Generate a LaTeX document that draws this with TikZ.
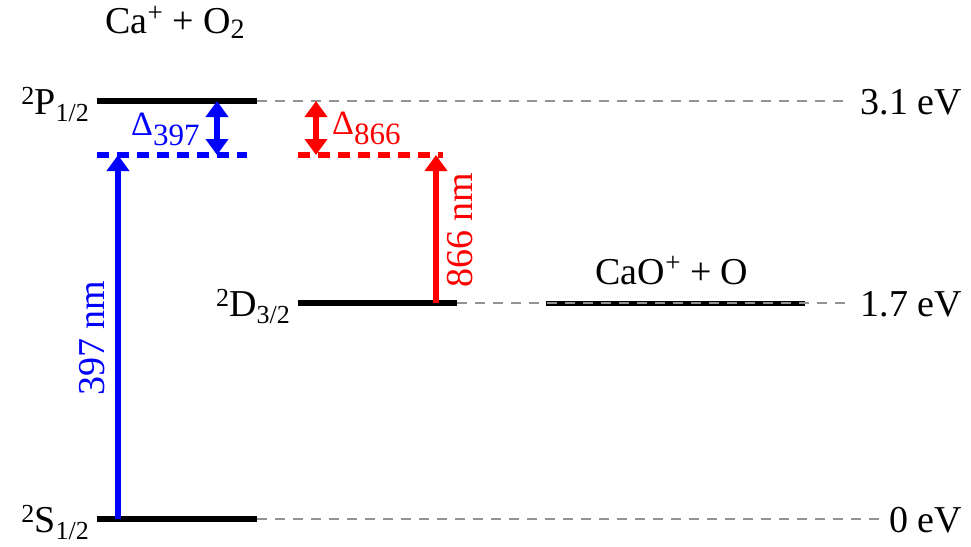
\documentclass[tikz,border=0pt]{standalone}
\usepackage{fontspec}
\setmainfont{Liberation Serif}
\usetikzlibrary{arrows.meta}
\newcommand\mysup[3]{\raisebox{#2pt}{\fontsize{#1}{#1}\selectfont #3}}
\newcommand\mysub[3]{\raisebox{-#2pt}{\fontsize{#1}{#1}\selectfont #3}}
\begin{document}
\begin{tikzpicture}[x=1pt,y=-1pt,
  font=\fontsize{38}{44}\selectfont,
  level/.style={line width=6pt},
  guide/.style={draw=gray!85, line width=2pt, dash pattern=on 10pt off 8pt},
  detuned/.style={line width=6pt, dash pattern=on 12pt off 8pt},
  tip/.tip={Triangle[width=22pt,length=16pt]},
  arr/.style={line width=6pt, -tip},
  darr/.style={line width=6pt, tip-tip},
  lab/.style={inner sep=0pt}]
\useasboundingbox (0,0) rectangle (971,546);
% level coordinates
\coordinate (P1) at (97,101);  \coordinate (P2) at (257,101); \coordinate (Pe) at (850,101);
\coordinate (D1) at (298,303); \coordinate (D2) at (457,303); \coordinate (De) at (850,303);
\coordinate (C1) at (546,303); \coordinate (C2) at (805,303);
\coordinate (S1) at (97,519);  \coordinate (S2) at (257,519); \coordinate (Se) at (880,519);
\coordinate (B1) at (97,155);  \coordinate (B2) at (247,155);
\coordinate (R1) at (298,155); \coordinate (R2) at (443,155);
\coordinate (ba) at (118,519); \coordinate (bb) at (118,155);
\coordinate (bc) at (217,101); \coordinate (bd) at (217,155);
\coordinate (rc) at (316,101); \coordinate (rd) at (316,155);
\coordinate (ra) at (436,303); \coordinate (rb) at (436,155);
% levels
\draw[level] (P1) -- (P2);
\draw[level] (D1) -- (D2);
\draw[level] (S1) -- (S2);
\draw[line width=5pt] (C1) -- (C2);
\draw[guide] (P2) -- (Pe);
\draw[guide] (D2) -- (De);
\draw[guide] (S2) -- (Se);
\draw[detuned, blue] (B1) -- (B2);
\draw[detuned, red] (R1) -- (R2);
% arrows
\draw[arr, blue] (ba) -- (bb);
\draw[darr, blue] (bc) -- (bd);
\draw[darr, red] (rc) -- (rd);
\draw[arr, red] (ra) -- (rb);
% labels
\node[lab, anchor=base] (title) at (175,33) {Ca\mysup{27}{12}{+} + O\mysub{28}{5}{2}};
\node[lab, anchor=base east] (Plab) at (89,114) {\mysup{26}{10}{2}P\mysub{26}{7}{1/2}};
\node[lab, anchor=base east] (Dlab) at (290,316) {\mysup{26}{10}{2}D\mysub{26}{7}{3/2}};
\node[lab, anchor=base east] (Slab) at (89,532) {\mysup{26}{10}{2}S\mysub{26}{7}{1/2}};
\node[lab, anchor=base east] (e1) at (962,114) {3.1 eV};
\node[lab, anchor=base east] (e2) at (962,316) {1.7 eV};
\node[lab, anchor=base east] (e3) at (962,532) {0 eV};
\node[lab, anchor=base] (cao) at (672,284) {CaO\mysup{27}{13}{+} + O};
\node[lab, anchor=base west, text=blue] (d397) at (131,135) {{\fontsize{34}{34}\selectfont Δ}\mysub{31}{10}{397}};
\node[lab, anchor=base west, text=red] (d866) at (332,134) {{\fontsize{34}{34}\selectfont Δ}\mysub{31}{10}{866}};
\node[lab, rotate=90, text=blue] (l397) at (92,338) {397 nm};
\node[lab, rotate=90, text=red] (l866) at (460,230) {866 nm};
\end{tikzpicture}
\end{document}
